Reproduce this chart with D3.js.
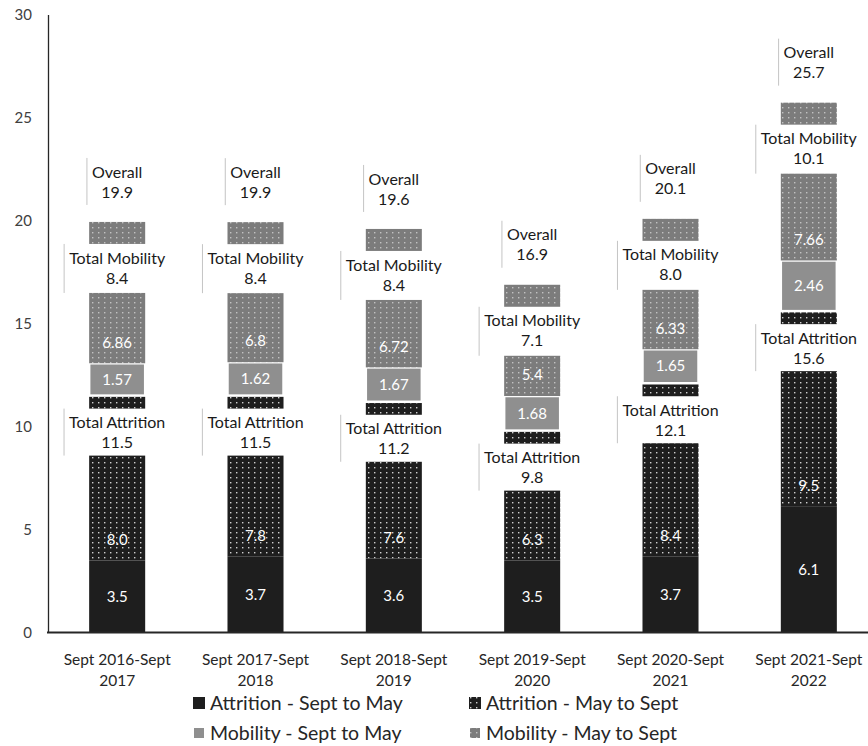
<!DOCTYPE html>
<html><head><meta charset="utf-8">
<script src="https://cdn.jsdelivr.net/npm/d3@7"></script>
<style>body{margin:0;background:#fff}svg{display:block;font-family:Lato,"Open Sans",sans-serif}</style>
</head><body><svg id="chart" width="868" height="746"></svg>
<script>
// ---------- data ----------
const categories = ["Sept 2016-Sept 2017","Sept 2017-Sept 2018","Sept 2018-Sept 2019","Sept 2019-Sept 2020","Sept 2020-Sept 2021","Sept 2021-Sept 2022"];
const attritionSeptToMay = [3.5,3.7,3.6,3.5,3.7,6.1];
const attritionMayToSept = [8.0,7.8,7.6,6.3,8.4,9.5];
const mobilitySeptToMay = [1.57,1.62,1.67,1.68,1.65,2.46];
const mobilityMayToSept = [6.86,6.8,6.72,5.4,6.33,7.66];
const totalAttrition = [11.5,11.5,11.2,9.8,12.1,15.6];
const totalMobility = [8.4,8.4,8.4,7.1,8.0,10.1];
const overall = [19.9,19.9,19.6,16.9,20.1,25.7];
const yTickValues = [0,5,10,15,20,25,30];
const seriesNames = ["Attrition - Sept to May","Attrition - May to Sept","Mobility - Sept to May","Mobility - May to Sept"];

// ---------- layout ----------
const svg = d3.select("#chart");
const x = d3.scaleBand().domain(categories).range([48,878]).paddingInner(0.595).paddingOuter(0.2975);
const y = d3.scaleLinear().domain([0,30]).range([632.5,14.5]);
const textCol = "#262626";

const defs = svg.append("defs");
function pattern(id, base, dot, w, h){
  const p = defs.append("pattern").attr("id",id).attr("patternUnits","userSpaceOnUse").attr("width",w).attr("height",h);
  p.append("rect").attr("width",w).attr("height",h).attr("fill",base);
  p.append("rect").attr("x",2).attr("y",2).attr("width",1.4).attr("height",1.4).attr("fill",dot);
}
pattern("patA","#1e1e1e","#d0d0d0",6,5);
pattern("patM","#7c7c7c","#c2c2c2",6,5);

const keys = ["a1","a2","m1","m2"];
const style = {
  a1:{fill:"#1e1e1e", stroke:"none", pos:"center", fmt:d3.format(".1f")},
  a2:{fill:"url(#patA)", stroke:"none", pos:"base", fmt:d3.format(".1f")},
  m1:{fill:"#8f8f8f", stroke:"#fff", pos:"center", fmt:d=>String(d)},
  m2:{fill:"url(#patM)", stroke:"none", pos:"base", fmt:d=>String(d)}
};
const rows = categories.map((c,i)=>({cat:c,a1:attritionSeptToMay[i],a2:attritionMayToSept[i],m1:mobilitySeptToMay[i],m2:mobilityMayToSept[i]}));
const stacked = d3.stack().keys(keys)(rows);

// axes
const yAxis = svg.append("g").attr("transform","translate(48,0)")
  .call(d3.axisLeft(y).tickValues(yTickValues).tickSize(0).tickPadding(16));
yAxis.select(".domain").attr("stroke",textCol).attr("stroke-width",1.3);
yAxis.selectAll("text").attr("font-size",15).attr("fill","#404040").attr("font-family","Lato");

// bars
const barG = svg.append("g");
stacked.forEach(s=>{
  const st = style[s.key];
  barG.selectAll(null).data(s).join("rect")
    .attr("x",d=>x(d.data.cat)).attr("width",x.bandwidth())
    .attr("y",d=>y(d[1])).attr("height",d=>y(d[0])-y(d[1]))
    .attr("fill",st.fill).attr("stroke",st.stroke).attr("stroke-width",2.5);
});

// x axis line
svg.append("line").attr("x1",47).attr("x2",868).attr("y1",y(0)).attr("y2",y(0)).attr("stroke",textCol).attr("stroke-width",2);

// callouts (white boxes with accent bar)
const callG = svg.append("g");
function callout(cx, top, h, lines){
  const g = callG.append("g");
  const rect = g.append("rect").attr("fill","#fff");
  const t = g.append("text").attr("text-anchor","middle").attr("font-size",16).attr("fill","#1a1a1a");
  lines.forEach((s,k)=>t.append("tspan").attr("x",cx).attr("y",top+14+20*k).attr("dy","0.35em").text(s));
  const bb = t.node().getBBox();
  const l = bb.x-5, r = bb.x+bb.width+5;
  rect.attr("x",l).attr("y",top).attr("width",r-l).attr("height",h);
  g.append("line").attr("x1",l).attr("x2",l).attr("y1",top).attr("y2",top+h).attr("stroke","#c4c4c4").attr("stroke-width",1);
}
const f1 = d3.format(".1f");
categories.forEach((c,i)=>{
  const cx = x(c)+x.bandwidth()/2;
  const topA = y(stacked[1][i][1]);
  const topAll = y(stacked[3][i][1]);
  callout(cx, topA+13, 47, ["Total Attrition", f1(totalAttrition[i])]);
  callout(cx, topAll+22, 49, ["Total Mobility", f1(totalMobility[i])]);
  callout(cx, topAll-17-47, 47, ["Overall", f1(overall[i])]);
});

// value labels inside bars
const labG = svg.append("g").attr("font-size",15).attr("fill","#fff").attr("text-anchor","middle");
stacked.forEach(s=>{
  const st = style[s.key];
  labG.selectAll(null).data(s).join("text")
    .attr("x",d=>x(d.data.cat)+x.bandwidth()/2)
    .attr("y",d=> st.pos==="center" ? (y(d[0])+y(d[1]))/2 : y(d[0])-21)
    .attr("dy","0.35em")
    .text(d=>st.fmt(d.data[s.key]));
});

// category labels
const catG = svg.append("g").attr("font-size",15.5).attr("fill",textCol).attr("text-anchor","middle");
categories.forEach(c=>{
  const k = c.lastIndexOf(" ");
  const cx = x(c)+x.bandwidth()/2;
  catG.append("text").attr("x",cx).attr("y",660).attr("dy","0.35em").text(c.slice(0,k));
  catG.append("text").attr("x",cx).attr("y",681).attr("dy","0.35em").text(c.slice(k+1));
});

// legend
const legFills = ["#1e1e1e","url(#patA)","#8f8f8f","url(#patM)"];
const legPos = [[193,703,12],[469,703,12],[193,733,10],[469,733,10]];
const legG = svg.append("g").attr("font-size",19.5).attr("fill",textCol);
seriesNames.forEach((n,k)=>{
  const [lx,ly,sz] = legPos[k];
  legG.append("rect").attr("x",lx+(12-sz)/2).attr("y",ly-sz/2).attr("width",sz).attr("height",sz).attr("fill",legFills[k]);
  legG.append("text").attr("x",lx+17).attr("y",ly).attr("dy","0.35em").text(n);
});
</script></body></html>
